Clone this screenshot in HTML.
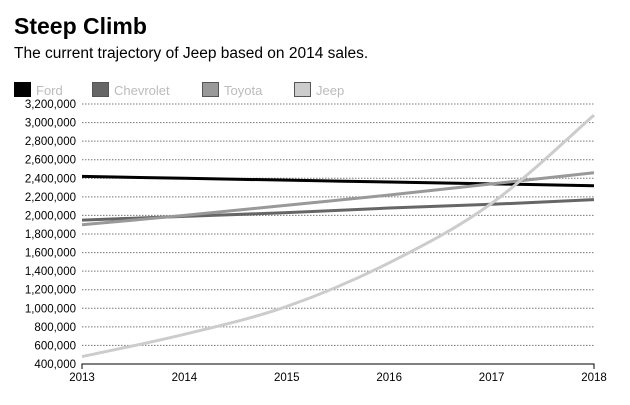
<!DOCTYPE html>
<html><head><meta charset="utf-8"><style>
body{margin:0;background:#fff;font-family:"Liberation Sans",sans-serif}
</style></head><body>
<svg width="630" height="400" xmlns="http://www.w3.org/2000/svg" font-family="Liberation Sans, sans-serif">
<text x="14" y="34" font-size="23" font-weight="bold" fill="#000">Steep Climb</text>
<text x="14" y="58" font-size="15.5" fill="#000">The current trajectory of Jeep based on 2014 sales.</text>
<g id="legend"></g>
<g id="grid"></g>
<g id="lines"></g>
</svg>
<script>
const years=[2013,2014,2015,2016,2017,2018];
const yTicks=[400000,600000,800000,1000000,1200000,1400000,1600000,1800000,2000000,2200000,2400000,2600000,2800000,3000000,3200000];
const seriesNames=["Ford","Chevrolet","Toyota","Jeep"];
const ford=[2420000,2400000,2380000,2360000,2340000,2320000];
const chevrolet=[1950000,1990000,2030000,2080000,2120000,2170000];
const toyota=[1900000,2000000,2110000,2220000,2340000,2460000];
const jeep=[480000,720000,1020000,1490000,2130000,3080000];
const colors=["#000","#666","#999","#ccc"];
const NS="http://www.w3.org/2000/svg";
const x0=82,x1=594,y0=364,y1=104;
const xs=v=>x0+(v-years[0])/(years[years.length-1]-years[0])*(x1-x0);
const ys=v=>y0-(v-400000)/(3200000-400000)*(y0-y1);
function mk(t,a,p){const e=document.createElementNS(NS,t);for(const k in a)e.setAttribute(k,a[k]);p.appendChild(e);return e;}
const grid=document.getElementById('grid');
yTicks.forEach(v=>{
  if(v>400000){const l=mk('line',{x1:x0,x2:x1,y1:ys(v),y2:ys(v),stroke:'#777','stroke-dasharray':'1.5,1.5','stroke-width':1},grid);
  
  }
  const t=mk('text',{x:x0-6,y:ys(v)+4,'font-size':11.5,'text-anchor':'end',fill:'#000'},grid);
  t.textContent=v.toLocaleString('en-US');
  
  
});
const ax=mk('path',{d:`M${x0},${y0+5}V${y0}H${x1}V${y0+5}`,fill:'none',stroke:'#000','stroke-width':1},grid);


years.forEach(y=>{
  const t=mk('text',{x:xs(y),y:y0+17,'font-size':11.5,'text-anchor':'middle',fill:'#000'},grid);
  t.textContent=y;
  
  
});
function curve(pts){
  let d=`M${pts[0][0]},${pts[0][1]}`;
  for(let i=0;i<pts.length-1;i++){
    const p0=pts[Math.max(0,i-1)],p1=pts[i],p2=pts[i+1],p3=pts[Math.min(pts.length-1,i+2)];
    const c1=[p1[0]+(p2[0]-p0[0])/6,p1[1]+(p2[1]-p0[1])/6];
    const c2=[p2[0]-(p3[0]-p1[0])/6,p2[1]-(p3[1]-p1[1])/6];
    d+=`C${c1[0]},${c1[1]} ${c2[0]},${c2[1]} ${p2[0]},${p2[1]}`;
  }
  return d;
}
const lines=document.getElementById('lines');
[ford,chevrolet,toyota,jeep].forEach((s,i)=>{
  const p=mk('path',{d:curve(s.map((v,j)=>[xs(years[j]),ys(v)])),fill:'none',stroke:colors[i],'stroke-width':3},lines);
  
  
});
const lg=document.getElementById('legend');
const lx=[14,92,202,294];
seriesNames.forEach((n,i)=>{
  const r=mk('rect',{x:lx[i]+0.5,y:82.5,width:16,height:14,fill:colors[i],stroke:i?'#555':'#000','stroke-width':1},lg);
  
  
  const t=mk('text',{x:lx[i]+22,y:95,'font-size':13,fill:'#bbb'},lg);
  t.textContent=n;
  
  
});
</script>
</body></html>
